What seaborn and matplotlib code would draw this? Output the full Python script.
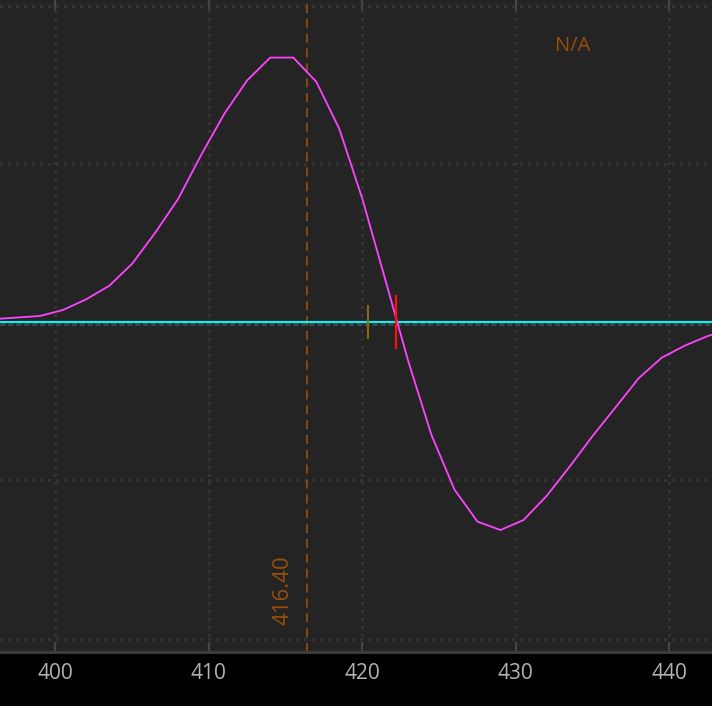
import matplotlib
matplotlib.use("Agg")
import matplotlib.pyplot as plt
import seaborn as sns
import pandas as pd

# Spectrum samples (1.5 nm spacing)
wavelength = [396.0, 397.5, 399.0, 400.5, 402.0, 403.5, 405.0, 406.5, 408.0, 409.5,
              411.0, 412.5, 414.0, 415.5, 417.0, 418.5, 420.0, 421.5, 423.0, 424.5,
              426.0, 427.5, 429.0, 430.5, 432.0, 433.5, 435.0, 436.5, 438.0, 439.5,
              441.0, 442.5, 444.0]
signal = [0.02, 0.03, 0.04, 0.078, 0.145, 0.23, 0.37, 0.566, 0.78, 1.058,
          1.317, 1.53, 1.673, 1.673, 1.52, 1.222, 0.78, 0.267, -0.249, -0.712,
          -1.057, -1.26, -1.313, -1.25, -1.098, -0.913, -0.719, -0.537, -0.354, -0.224,
          -0.148, -0.087, -0.04]

x_ticks = [400, 410, 420, 430, 440]
y_grid = [-2, -1, 1, 2]
cursor_x = 416.4
cursor_label = "416.40"
marker_gold_x = 420.36
marker_red_x = 422.2
status_text = "N/A"

orange = "#9a4f0a"

sns.set_theme(style="dark")
plt.rcParams["font.family"] = ["Open Sans", "DejaVu Sans"]
plt.rcParams["lines.scale_dashes"] = False

fig = plt.figure(figsize=(7.12, 7.06), dpi=100, facecolor="black")
ax = fig.add_axes([0, 54 / 706, 1, 652 / 706])
ax.set_facecolor("#242424")

df = pd.DataFrame({"wavelength": wavelength, "signal": signal})

# grid
ax.set_xticks(x_ticks)
ax.set_yticks(y_grid)
ax.grid(True, color="#3a3a3a", linestyle=(0, (1.44, 4.32)), linewidth=2.2)
ax.set_axisbelow(True)

# zero reference lines
ax.axhline(-0.013, color="#35494a", linestyle=(0, (3.8, 1.9)), linewidth=2.2, zorder=2)
ax.axhline(0, color="#10f0f5", linewidth=1.5, zorder=3)

# cursor
ax.axvline(cursor_x, color=orange, linestyle=(0, (6.5, 4.2)), linewidth=1.2, zorder=2)

sns.lineplot(data=df, x="wavelength", y="signal", ax=ax, color="#ff44ff",
             linewidth=1.3, zorder=4)

ax.vlines(marker_gold_x, -0.105, 0.11, color="#8a6a14", linewidth=1.5, zorder=5)
ax.vlines(marker_red_x, -0.17, 0.172, color="#ff1010", linewidth=1.6, zorder=5)

ax.text(414.8, -1.913, cursor_label, rotation=90, ha="center", va="bottom",
        color=orange, fontsize=16)
ax.text(433.7, 1.745, status_text, ha="center", va="center", color=orange, fontsize=14.5)

ax.set_xlim(396.39, 442.78)
ax.set_ylim(-2.084, 2.037)
ax.set_xlabel("")
ax.set_ylabel("")
ax.set_yticklabels([])

for side in ["left", "right", "top"]:
    ax.spines[side].set_visible(False)
ax.spines["bottom"].set_visible(True)
ax.spines["bottom"].set_color("#3e3e3e")
ax.spines["bottom"].set_linewidth(2.0)

ax.tick_params(axis="x", direction="in", length=7, width=1.5, color="#454545",
               top=True, bottom=True, labelcolor="#b4b4b4", labelsize=15, pad=8)
ax.tick_params(axis="y", length=0)

fig.savefig("out.png", dpi=100, facecolor="black")
